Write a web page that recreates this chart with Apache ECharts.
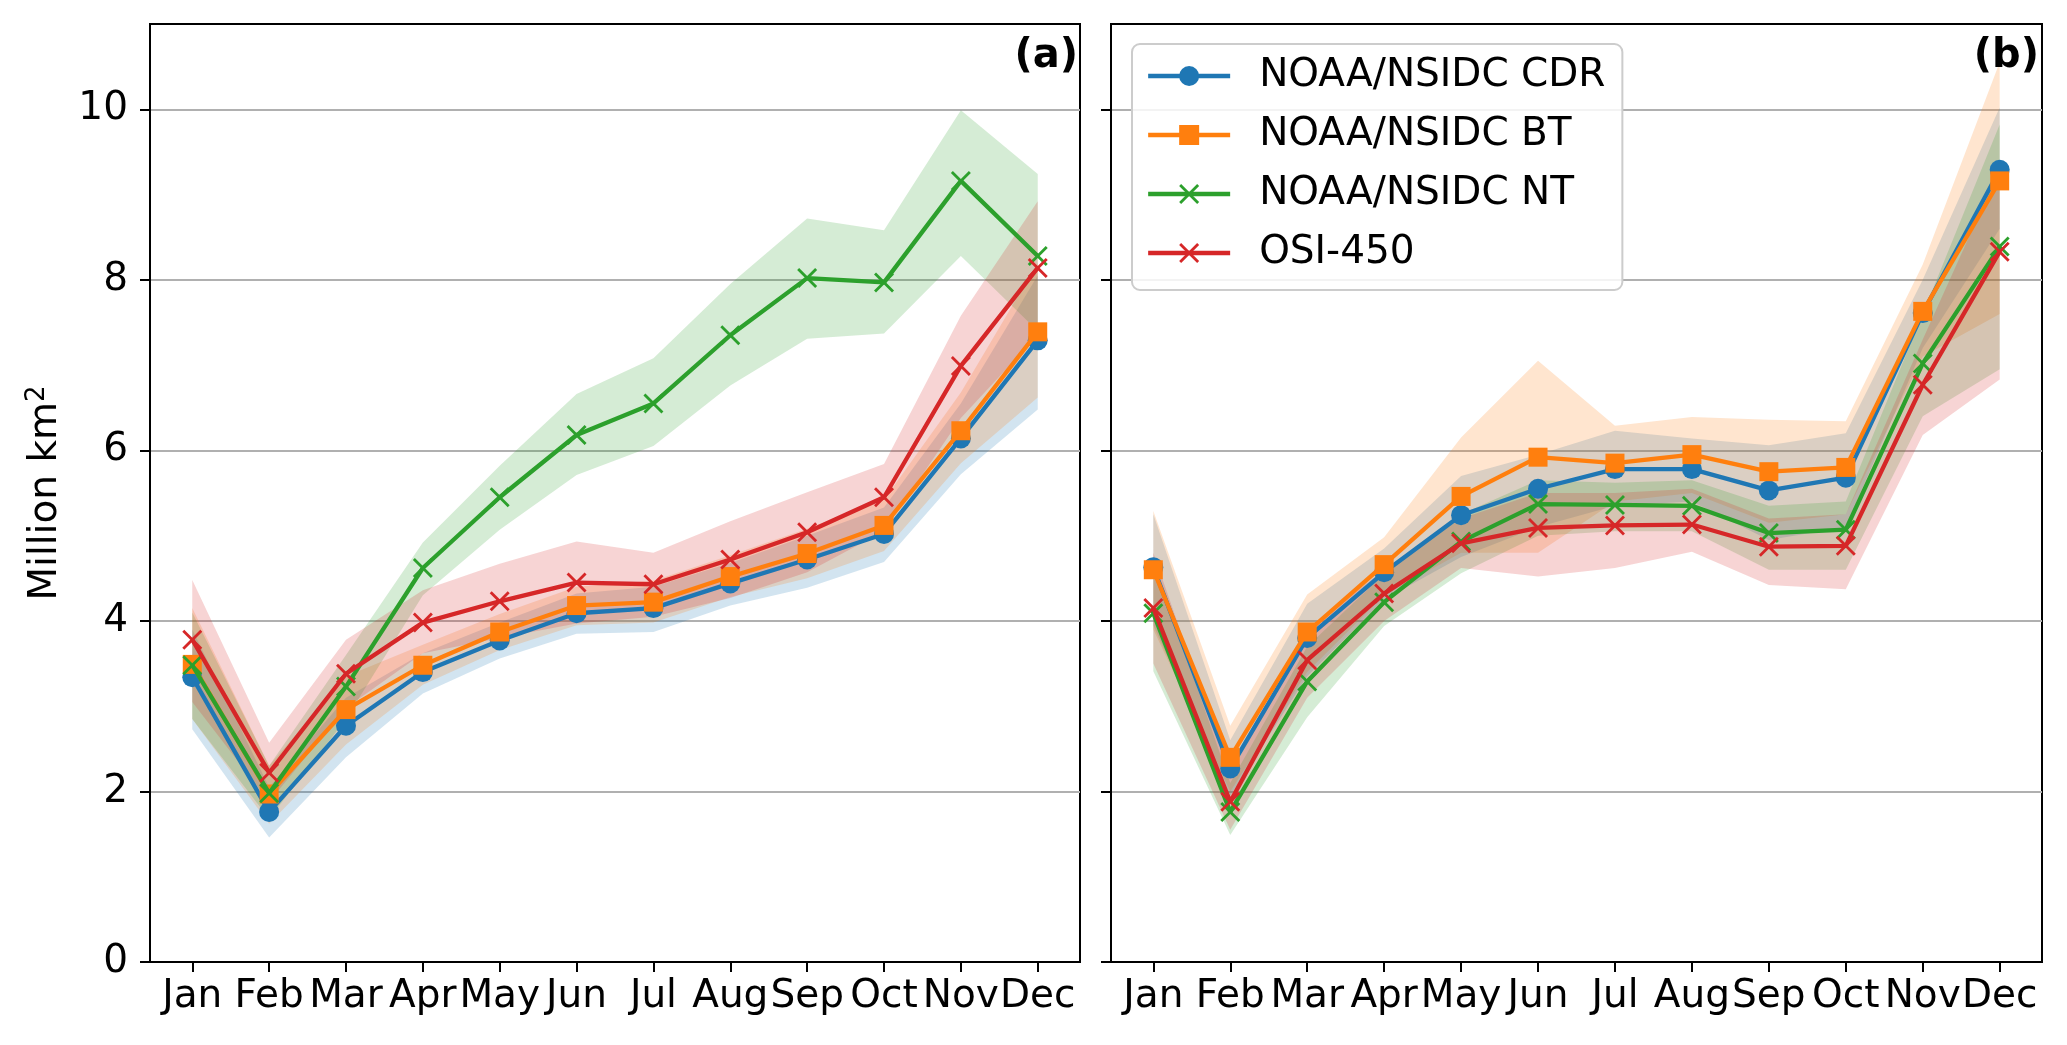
<!DOCTYPE html>
<html>
<head>
<meta charset="utf-8">
<script src="https://cdn.jsdelivr.net/npm/echarts@6/dist/echarts.min.js"></script>
<style>
html,body{margin:0;padding:0;background:#fff;}
#chart{width:2067px;height:1045px;}
</style>
</head>
<body>
<div id="chart"></div>
<script>
// ---------- data ----------
const months = ['Jan','Feb','Mar','Apr','May','Jun','Jul','Aug','Sep','Oct','Nov','Dec'];
const yTicks = [0, 2, 4, 6, 8, 10];
const seriesNames = ['NOAA/NSIDC CDR', 'NOAA/NSIDC BT', 'NOAA/NSIDC NT', 'OSI-450'];

// Panel (a)
const cdrA = [3.34, 1.76, 2.77, 3.40, 3.77, 4.09, 4.15, 4.44, 4.72, 5.02, 6.14, 7.29];
const btA  = [3.49, 1.97, 2.96, 3.48, 3.87, 4.18, 4.22, 4.52, 4.79, 5.12, 6.23, 7.39];
const ntA  = [3.48, 1.98, 3.23, 4.62, 5.45, 6.18, 6.55, 7.35, 8.02, 7.97, 9.16, 8.28];
const osiA = [3.78, 2.22, 3.38, 3.98, 4.23, 4.45, 4.43, 4.72, 5.04, 5.45, 6.99, 8.14];

const cdrALo = [2.73, 1.46, 2.40, 3.15, 3.56, 3.85, 3.87, 4.18, 4.39, 4.69, 5.72, 6.48];
const cdrAHi = [3.90, 2.05, 3.10, 3.62, 3.98, 4.32, 4.40, 4.68, 5.00, 5.33, 6.55, 8.05];
const btALo  = [2.85, 1.62, 2.55, 3.25, 3.66, 3.95, 3.98, 4.28, 4.50, 4.82, 5.85, 6.62];
const btAHi  = [4.15, 2.30, 3.35, 3.72, 4.08, 4.40, 4.47, 4.77, 5.08, 5.42, 6.68, 8.20];
const ntALo  = [2.85, 1.68, 2.85, 4.30, 5.07, 5.71, 6.05, 6.76, 7.31, 7.37, 8.28, 7.40];
const ntAHi  = [4.10, 2.30, 3.60, 4.92, 5.82, 6.66, 7.08, 7.95, 8.72, 8.58, 9.99, 9.24];
const osiALo = [3.05, 1.88, 2.98, 3.62, 3.80, 3.97, 4.05, 4.27, 4.57, 5.05, 6.38, 7.35];
const osiAHi = [4.48, 2.57, 3.78, 4.36, 4.67, 4.93, 4.80, 5.17, 5.51, 5.84, 7.58, 8.92];

// Panel (b)
const cdrB = [4.63, 2.27, 3.80, 4.57, 5.24, 5.55, 5.78, 5.78, 5.53, 5.68, 7.61, 9.29];
const btB  = [4.60, 2.40, 3.87, 4.66, 5.46, 5.92, 5.85, 5.95, 5.75, 5.80, 7.63, 9.16];
const ntB  = [4.09, 1.76, 3.29, 4.22, 4.93, 5.37, 5.36, 5.35, 5.03, 5.07, 7.02, 8.39];
const osiB = [4.15, 1.88, 3.54, 4.32, 4.91, 5.09, 5.12, 5.13, 4.87, 4.88, 6.77, 8.33];

const cdrBLo = [3.95, 1.95, 3.35, 4.25, 4.75, 5.10, 5.35, 5.40, 4.95, 5.10, 7.20, 8.60];
const cdrBHi = [5.25, 2.60, 4.20, 4.85, 5.70, 5.95, 6.23, 6.14, 6.06, 6.20, 8.00, 10.02];
const btBLo  = [3.90, 2.00, 3.40, 4.30, 4.80, 4.80, 5.40, 5.50, 5.15, 5.25, 7.10, 7.60];
const btBHi  = [5.29, 2.77, 4.31, 4.98, 6.15, 7.05, 6.29, 6.39, 6.36, 6.34, 8.18, 10.55];
const ntBLo  = [3.41, 1.49, 2.87, 3.94, 4.56, 5.00, 5.05, 5.05, 4.60, 4.60, 6.40, 6.95];
const ntBHi  = [4.70, 2.10, 3.70, 4.55, 5.25, 5.65, 5.62, 5.65, 5.35, 5.40, 7.60, 9.82];
const osiBLo = [3.50, 1.55, 3.10, 4.00, 4.62, 4.52, 4.62, 4.81, 4.42, 4.37, 6.18, 6.83];
const osiBHi = [4.80, 2.20, 3.90, 4.60, 5.20, 5.50, 5.50, 5.55, 5.20, 5.25, 7.30, 9.30];

// ---------- style ----------
const FONT = 'DejaVu Sans';
const colors = ['#1f77b4', '#ff7f0e', '#2ca02c', '#d62728'];
const bandColors = ['rgba(31,119,180,0.2)', 'rgba(255,127,14,0.2)', 'rgba(44,160,44,0.2)', 'rgba(214,39,40,0.2)'];
const XMARK = 'path://M0,10L10,0L50,40L90,0L100,10L60,50L100,90L90,100L50,60L10,100L0,90L40,50Z';
const symbols = ['circle', 'rect', XMARK, XMARK];
const symbolSizes = [20, 19, 20, 20];
const monthIdx = months.map((m, i) => i);

function bandSeries(gi, lo, hi, color) {
  return {
    type: 'custom', xAxisIndex: gi, yAxisIndex: gi, silent: true, z: 1, clip: true,
    data: months.map((m, i) => [i, lo[i], hi[i]]),
    encode: { x: 0, y: [1, 2] },
    renderItem: function (params, api) {
      if (params.dataIndexInside !== 0) return null;
      const pts = [];
      for (let i = 0; i < lo.length; i++) pts.push(api.coord([i, hi[i]]));
      for (let i = lo.length - 1; i >= 0; i--) pts.push(api.coord([i, lo[i]]));
      return { type: 'polygon', shape: { points: pts }, style: { fill: color } };
    }
  };
}
function lineSeries(gi, k, vals) {
  return {
    type: 'line', name: seriesNames[k], xAxisIndex: gi, yAxisIndex: gi, z: 3 + k,
    data: vals.map((v, i) => [i, v]),
    symbol: symbols[k], symbolSize: symbolSizes[k], showSymbol: true,
    lineStyle: { width: 4.3, color: colors[k] },
    itemStyle: { color: colors[k] },
    emphasis: { disabled: true }
  };
}
function xAxisCfg(gi) {
  return {
    type: 'value', gridIndex: gi, min: -0.55, max: 11.55,
    axisLine: { show: true, onZero: false, lineStyle: { color: '#000', width: 2 } },
    axisTick: { show: true, customValues: monthIdx, length: 10, lineStyle: { color: '#000', width: 2 } },
    axisLabel: { show: true, customValues: monthIdx, formatter: v => months[Math.round(v)],
                 fontSize: 39, color: '#000', fontFamily: FONT, margin: 15 },
    splitLine: { show: false }
  };
}
function yAxisCfg(gi, showLabels) {
  const c = {
    type: 'value', gridIndex: gi, min: 0, max: 11,
    axisLine: { show: true, onZero: false, lineStyle: { color: '#000', width: 2 } },
    axisTick: { show: true, customValues: yTicks, length: 10, lineStyle: { color: '#000', width: 2 } },
    axisLabel: { show: showLabels, customValues: yTicks, fontSize: 39, color: '#000', fontFamily: FONT, margin: 22 },
    splitLine: { show: true, lineStyle: { color: '#b0b0b0', width: 2 } }
  };
  if (showLabels) {
    c.name = 'Million km{sup|2}';
    c.nameLocation = 'middle';
    c.nameRotate = 90;
    c.nameGap = 82;
    c.nameTextStyle = { fontSize: 39, color: '#000', fontFamily: FONT,
      rich: { sup: { fontSize: 26, color: '#000', fontFamily: FONT, verticalAlign: 'top', padding: [0, 0, 18, 0] } } };
  }
  return c;
}

const series = [];
const dataA = [cdrA, btA, ntA, osiA], loA = [cdrALo, btALo, ntALo, osiALo], hiA = [cdrAHi, btAHi, ntAHi, osiAHi];
const dataB = [cdrB, btB, ntB, osiB], loB = [cdrBLo, btBLo, ntBLo, osiBLo], hiB = [cdrBHi, btBHi, ntBHi, osiBHi];
for (let k = 0; k < 4; k++) { series.push(bandSeries(0, loA[k], hiA[k], bandColors[k])); series.push(bandSeries(1, loB[k], hiB[k], bandColors[k])); }
for (let k = 0; k < 4; k++) { series.push(lineSeries(0, k, dataA[k])); series.push(lineSeries(1, k, dataB[k])); }

const chart = echarts.init(document.getElementById('chart'), null, { renderer: 'canvas' });
chart.setOption({
  animation: false,
  backgroundColor: '#fff',
  textStyle: { fontFamily: FONT },
  grid: [
    { left: 150, top: 24, width: 930, height: 938, show: true, borderColor: '#000', borderWidth: 2, backgroundColor: 'transparent' },
    { left: 1111, top: 24, width: 931, height: 938, show: true, borderColor: '#000', borderWidth: 2, backgroundColor: 'transparent' }
  ],
  xAxis: [xAxisCfg(0), xAxisCfg(1)],
  yAxis: [yAxisCfg(0, true), yAxisCfg(1, false)],
  legend: {
    data: seriesNames, orient: 'vertical', align: 'left',
    left: 1132, top: 44, padding: [10, 17, 15, 14],
    itemWidth: 82, itemHeight: 25, itemGap: 15,
    lineStyle: { width: 4.3 },
    backgroundColor: 'rgba(255,255,255,0.85)', borderColor: '#cccccc', borderWidth: 2, borderRadius: 8,
    textStyle: { fontSize: 39, color: '#000', fontFamily: FONT, lineHeight: 44, padding: [0, 0, 0, 24] },
    selectedMode: false, z: 10
  },
  graphic: [
    { type: 'text', x: 1078, y: 57, z: 100, style: { text: '(a)', fill: '#000', font: 'bold 40px "DejaVu Sans"', align: 'right', verticalAlign: 'middle' } },
    { type: 'text', x: 2039, y: 57, z: 100, style: { text: '(b)', fill: '#000', font: 'bold 40px "DejaVu Sans"', align: 'right', verticalAlign: 'middle' } }
  ],
  series: series
});
</script>
</body>
</html>
